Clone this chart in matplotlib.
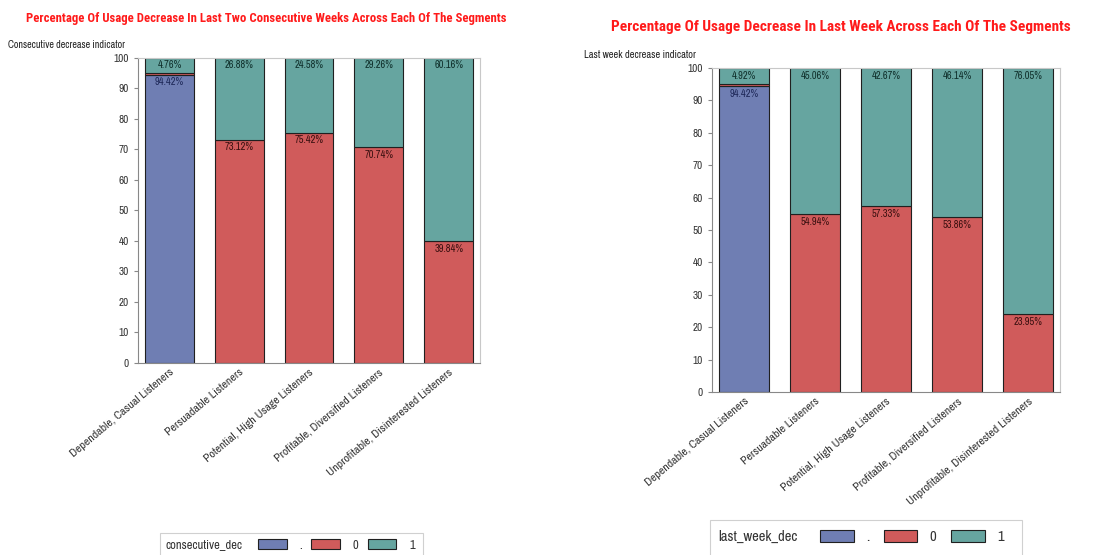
import matplotlib
matplotlib.use("Agg")
import matplotlib.pyplot as plt
from matplotlib.patches import Patch, Rectangle

plt.rcParams['font.family'] = ['Archivo Narrow', 'Liberation Sans', 'DejaVu Sans']
TITLE_FONT = ['Roboto Condensed', 'PT Sans Narrow', 'Archivo Narrow', 'Liberation Sans']

segments = ["Dependable, Casual Listeners", "Persuadable Listeners",
            "Potential, High Usage Listeners", "Profitable, Diversified Listeners",
            "Unprofitable, Disinterested Listeners"]
levels = [".", "0", "1"]

# share (%) of each indicator level per segment
consec_missing = [94.42, 0, 0, 0, 0]
consec_zero = [0.82, 73.12, 75.42, 70.74, 39.84]
consec_one = [4.76, 26.88, 24.58, 29.26, 60.16]

lastwk_missing = [94.42, 0, 0, 0, 0]
lastwk_zero = [0.66, 54.94, 57.33, 53.86, 23.95]
lastwk_one = [4.92, 45.06, 42.67, 46.14, 76.05]

fills = ["#6F7EB3", "#D05B5B", "#66A5A0"]
text_cols = ["#1E2858", "#3A1010", "#10302C"]
yticks = [0, 10, 20, 30, 40, 50, 60, 70, 80, 90, 100]


def stacked(ax, series, fsize, tsize):
    x = range(len(segments))
    bottom = [0.0] * len(segments)
    for vals, fc, tc in zip(series, fills, text_cols):
        ax.bar(x, vals, width=0.7, bottom=bottom, color=fc,
               edgecolor="#202020", linewidth=0.8, zorder=2)
        for i, v in enumerate(vals):
            if v > 2:
                ax.text(i, bottom[i] + v - 0.8, f"{v:.2f}%", ha="center", va="top",
                        fontsize=fsize, color=tc, zorder=3)
        bottom = [b + v for b, v in zip(bottom, vals)]
    ax.set_xlim(-0.45, 4.45)
    ax.set_ylim(0, 100)
    ax.set_yticks(yticks)
    ax.set_xticks(list(x))
    ax.set_xticklabels(segments, rotation=40, ha="right", rotation_mode="anchor",
                       fontsize=tsize, color="#333333")
    ax.tick_params(axis="y", labelsize=8, labelcolor="#333333", length=3,
                   color="#888888")
    ax.tick_params(axis="x", length=0, pad=3)
    for s in ax.spines.values():
        s.set_color("#C8C8C8")
        s.set_linewidth(0.8)
    ax.spines["left"].set_color("#888888")
    ax.spines["bottom"].set_color("#888888")


def legend_box(fig, box, title, title_x, items_x, yc, fsize, hlen, hh, tpad, cspace):
    fig.patches.append(Rectangle(box[:2], box[2], box[3], transform=fig.transFigure,
                                 facecolor="white", edgecolor="#D0D0D0", lw=0.8))
    fig.text(title_x, yc, title, ha="left", va="center", fontsize=fsize, color="#333333")
    handles = [Patch(facecolor=c, edgecolor="#202020", lw=0.8) for c in fills]
    fig.legend(handles, levels, ncol=3, frameon=False, fontsize=fsize,
               loc="center left", bbox_to_anchor=(items_x, yc),
               handlelength=hlen, handleheight=hh, columnspacing=cspace,
               handletextpad=tpad, labelcolor="#333333", borderaxespad=0,
               borderpad=0)


fig = plt.figure(figsize=(11.12, 5.55), dpi=100)

ax1 = fig.add_axes([0.1241, 0.346, 0.3076, 0.5495])
stacked(ax1, [consec_missing, consec_zero, consec_one], 7.5, 8.5)
fig.text(0.239, 0.967, "Percentage Of Usage Decrease In Last Two Consecutive Weeks Across Each Of The Segments",
         ha="center", va="center", fontsize=9.2, fontweight="bold", color="#FF1A1A",
         family=TITLE_FONT)
fig.text(0.007, 0.919, "Consecutive decrease indicator", ha="left", va="center",
         fontsize=7.3, color="#222222")
legend_box(fig, (0.144, -0.01, 0.236, 0.0496), "consecutive_dec", 0.1484, 0.232,
           0.018, 9, 2.3, 0.8, 1.0, 0.75)

ax2 = fig.add_axes([0.6403, 0.2937, 0.3129, 0.5838])
stacked(ax2, [lastwk_missing, lastwk_zero, lastwk_one], 7.5, 8.5)
fig.text(0.756, 0.951, "Percentage Of Usage Decrease In Last Week Across Each Of The Segments",
         ha="center", va="center", fontsize=11, fontweight="bold", color="#FF1A1A",
         family=TITLE_FONT)
fig.text(0.525, 0.901, "Last week decrease indicator", ha="left", va="center",
         fontsize=7.5, color="#222222")
legend_box(fig, (0.6385, -0.01, 0.2806, 0.073), "last_week_dec", 0.6457, 0.7374,
           0.032, 10.5, 2.3, 0.85, 0.85, 1.0)

fig.savefig("out.png", dpi=100, facecolor="white")
